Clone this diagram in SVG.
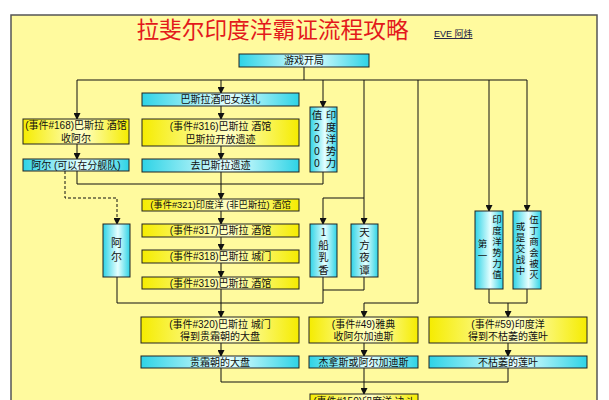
<svg xmlns="http://www.w3.org/2000/svg" width="609" height="400" viewBox="0 0 609 400">
<style>
text{font-family:"Liberation Sans","Noto Sans CJK SC",sans-serif;fill:#111;}
.t{font-size:10px;text-anchor:middle;dominant-baseline:central;}
.vv{font-family:"Noto Sans CJK SC","Liberation Sans",sans-serif;text-anchor:middle;writing-mode:vertical-rl;text-orientation:upright;}
.c{fill:url(#gc);stroke:#222;stroke-width:1;}
.y{fill:url(#gy);stroke:#222;stroke-width:1;}
.ln{fill:none;stroke:#111;stroke-width:1;}
.ar{fill:none;stroke:#111;stroke-width:1;marker-end:url(#ah);}
.ds{fill:none;stroke:#111;stroke-width:1;stroke-dasharray:3,2;marker-end:url(#ah);}
</style>
<defs>
<linearGradient id="gc" x1="0" y1="0" x2="1" y2="0">
<stop offset="0" stop-color="#2ED3E6"/>
<stop offset="0.55" stop-color="#E6FFFF"/>
<stop offset="1" stop-color="#2ED3E6"/>
</linearGradient>
<linearGradient id="gy" x1="0" y1="0" x2="1" y2="0">
<stop offset="0" stop-color="#F5EC00"/>
<stop offset="0.55" stop-color="#FFFFC8"/>
<stop offset="1" stop-color="#F5EC00"/>
</linearGradient>
<marker id="ah" markerUnits="userSpaceOnUse" markerWidth="7" markerHeight="7" refX="6" refY="3.5" orient="auto">
<path d="M0,0 L7,3.5 L0,7 z" fill="#111"/>
</marker>
</defs>
<rect x="0" y="0" width="609" height="400" fill="#fff"/>
<rect x="11" y="15" width="586" height="400" fill="#FFFA9E" stroke="#555" stroke-width="1.5"/>
<g id="title">
<text x="272.5" y="30" font-size="22.7" text-anchor="middle" dominant-baseline="central" style="fill:#E3191C">拉斐尔印度洋霸证流程攻略</text>
<text x="434" y="37" font-size="9" text-decoration="underline" style="fill:#101040">EVE 阿炜</text>
</g>
<g id="connectors">
<path class="ln" d="M304,67 V80 M77,80 H527"/>
<path class="ar" d="M77,80 V119"/>
<path class="ar" d="M221,80 V93"/>
<path class="ar" d="M323,80 V107"/>
<path class="ar" d="M364,80 V224"/>
<path class="ln" d="M323,198 H364"/>
<path class="ar" d="M323,198 V224"/>
<path class="ln" d="M418,80 V303 H364"/>
<path class="ar" d="M364,303 V317"/>
<path class="ar" d="M489,80 V211"/>
<path class="ar" d="M527,80 V211"/>
<path class="ar" d="M221,106 V119"/>
<path class="ar" d="M221,146 V159"/>
<path class="ar" d="M77,144 V159"/>
<path class="ln" d="M77,171 V184 H323 V172"/>
<path class="ar" d="M221,172 V199"/>
<path class="ds" d="M65,171 V198 H117 V224"/>
<path class="ar" d="M221,211 V224"/>
<path class="ar" d="M221,237 V250"/>
<path class="ar" d="M221,263 V277"/>
<path class="ar" d="M221,289 V317"/>
<path class="ln" d="M117,277 V303 H323 V277 M364,277 V290 H323"/>
<path class="ln" d="M489,289 V303 H527 V289"/>
<path class="ar" d="M508,303 V317"/>
<path class="ar" d="M221,343 V356"/>
<path class="ar" d="M364,343 V356"/>
<path class="ar" d="M508,343 V356"/>
<path class="ln" d="M221,368 V382 H508 V368"/>
<path class="ar" d="M364,368 V394"/>
</g>
<g id="n-start"><rect class="c" x="239" y="54" width="130" height="13"/><text class="t" x="304" y="60.5">游戏开局</text></g>
<g id="n-gift"><rect class="c" x="142" y="93" width="157" height="13"/><text class="t" x="220.5" y="99.5">巴斯拉酒吧女送礼</text></g>
<g id="n-e316"><rect class="y" x="142" y="119" width="157" height="27"/><text class="t" x="220.5" y="126">(事件#316)巴斯拉 酒馆<tspan x="220.5" dy="13">巴斯拉开放遗迹</tspan></text></g>
<g id="n-ruin"><rect class="c" x="142" y="159" width="157" height="13"/><text class="t" x="220.5" y="165.5">去巴斯拉遗迹</text></g>
<g id="n-e168"><rect class="y" x="23" y="119" width="106" height="25"/><text class="t" x="76" y="125.5">(事件#168)巴斯拉 酒馆<tspan x="76" dy="12">收阿尔</tspan></text></g>
<g id="n-al"><rect class="c" x="23" y="159" width="106" height="12"/><text class="t" x="76" y="165">阿尔 (可以在分舰队)</text></g>
<g id="n-power"><rect class="c" x="310" y="107" width="27" height="65"/>
<text class="vv" x="331" y="140" style="font-size:10.5px;letter-spacing:1.5px">印度洋势力</text>
<text class="vv" x="317" y="140" style="font-size:10.5px;letter-spacing:1.5px">值2000</text></g>
<g id="n-e321"><rect class="y" x="142" y="199" width="157" height="12"/><text class="t" x="220.5" y="205" style="font-size:9.3px">(事件#321)印度洋 (非巴斯拉) 酒馆</text></g>
<g id="n-e317"><rect class="y" x="142" y="224" width="157" height="13"/><text class="t" x="220.5" y="230.5">(事件#317)巴斯拉 酒馆</text></g>
<g id="n-e318"><rect class="y" x="142" y="250" width="157" height="13"/><text class="t" x="220.5" y="256.5">(事件#318)巴斯拉 城门</text></g>
<g id="n-e319"><rect class="y" x="142" y="277" width="157" height="12"/><text class="t" x="220.5" y="283">(事件#319)巴斯拉 酒馆</text></g>
<g id="n-al2"><rect class="c" x="103" y="224" width="27" height="53"/><text class="vv" x="116.5" y="251.5" style="font-size:11px;letter-spacing:3px">阿尔</text></g>
<g id="n-incense"><rect class="c" x="310" y="224" width="27" height="53"/><text class="vv" x="323.5" y="252" style="font-size:10.5px;letter-spacing:2px">1船乳香</text></g>
<g id="n-nights"><rect class="c" x="351" y="224" width="27" height="53"/><text class="vv" x="364.5" y="252" style="font-size:10.5px;letter-spacing:2px">天方夜谭</text></g>
<g id="n-first"><rect class="c" x="475" y="211" width="28" height="78"/>
<text class="vv" x="497" y="248" style="font-size:9.5px;letter-spacing:1.5px">印度洋势力值</text>
<text class="vv" x="482.5" y="251" style="font-size:9.5px;letter-spacing:2.5px">第一</text></g>
<g id="n-wooding"><rect class="c" x="513" y="211" width="28" height="78"/>
<text class="vv" x="534" y="248" style="font-size:9.5px;letter-spacing:1.5px">伍丁商会被灭</text>
<text class="vv" x="520.5" y="249" style="font-size:9.5px;letter-spacing:1.5px">或是交战中</text></g>
<g id="n-e320"><rect class="y" x="141" y="317" width="158" height="26"/><text class="t" x="220" y="324">(事件#320)巴斯拉 城门<tspan x="220" dy="12">得到贵霜朝的大盘</tspan></text></g>
<g id="n-e49"><rect class="y" x="309" y="317" width="109" height="26"/><text class="t" x="363.5" y="324">(事件#49)雅典<tspan x="363.5" dy="12">收阿尔加迪斯</tspan></text></g>
<g id="n-e59"><rect class="y" x="429" y="317" width="158" height="26"/><text class="t" x="508" y="324">(事件#59)印度洋<tspan x="508" dy="12">得到不枯萎的莲叶</tspan></text></g>
<g id="n-dish"><rect class="c" x="141" y="356" width="158" height="12"/><text class="t" x="220" y="362">贵霜朝的大盘</text></g>
<g id="n-kadis"><rect class="c" x="309" y="356" width="109" height="12"/><text class="t" x="363.5" y="362">杰拿斯或阿尔加迪斯</text></g>
<g id="n-lotus"><rect class="c" x="429" y="356" width="158" height="12"/><text class="t" x="508" y="362">不枯萎的莲叶</text></g>
<g id="n-e150"><rect class="y" x="310" y="394" width="108" height="14"/><text class="t" x="364" y="401.5">(事件#150)印度洋 决斗</text></g>
</svg>
